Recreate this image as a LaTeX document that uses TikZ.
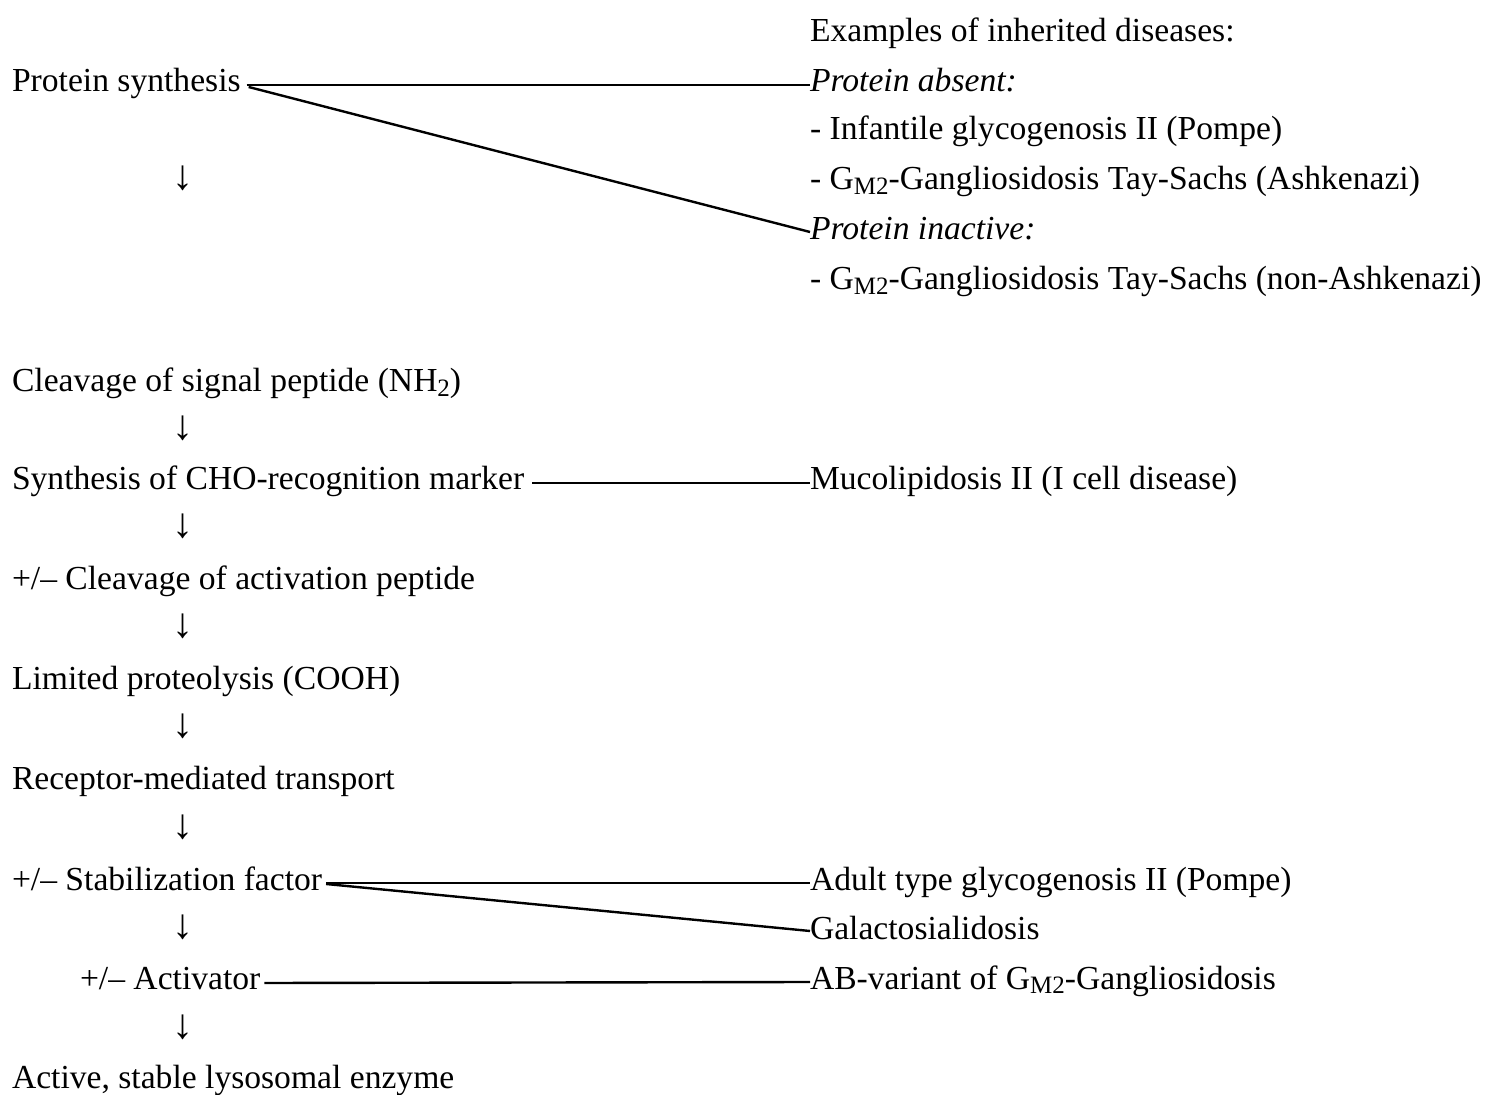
\documentclass[tikz,border=0pt]{standalone}
\usepackage{fontspec}
\setmainfont{Liberation Serif}
\newcommand{\Msub}{\raisebox{-0.12em}{\fontsize{12.5}{14}\selectfont M2}}
\begin{document}
\begin{tikzpicture}[x=0.5pt,y=-0.5pt,
  every node/.style={inner sep=0pt,outer sep=0pt,anchor=base west,font=\fontsize{16.8}{20}\selectfont},
  arr/.style={anchor=base,font=\fontsize{21}{24}\selectfont},
  conn/.style={line width=1.2pt}]
\useasboundingbox (0,0) rectangle (1499,1095);
% right column
\node (ex) at (810,42) {Examples of inherited diseases:};
\node (pa) at (810,92) {\itshape Protein absent:};
\node (inf) at (810,140) {- Infantile glycogenosis II (Pompe)};
\node (tsa) at (810,190) {- G\Msub-Gangliosidosis Tay-Sachs (Ashkenazi)};
\node (pi) at (810,240) {\itshape Protein inactive:};
\node (tsn) at (810,290) {- G\Msub-Gangliosidosis Tay-Sachs (non-Ashkenazi)};
\node (muc) at (810,490) {Mucolipidosis II (I cell disease)};
\node (adu) at (810,890) {Adult type glycogenosis II (Pompe)};
\node (gal) at (810,939) {Galactosialidosis};
\node (abv) at (810,989) {AB-variant of G\Msub-Gangliosidosis};
% left column
\node (ps) at (12,92) {Protein synthesis};
\node[arr] (a0) at (183,190) {↓};
\node (cs) at (12,392) {Cleavage of signal peptide (NH\raisebox{-0.12em}{\fontsize{12.5}{14}\selectfont 2})};
\node[arr] (a1) at (183,440) {↓};
\node (sc) at (12,490) {Synthesis of CHO-recognition marker};
\node[arr] (a2) at (183,538) {↓};
\node (ca) at (12,590) {+/– Cleavage of activation peptide};
\node[arr] (a3) at (183,638) {↓};
\node (lp) at (12,690) {Limited proteolysis (COOH)};
\node[arr] (a4) at (183,738) {↓};
\node (rm) at (12,790) {Receptor-mediated transport};
\node[arr] (a5) at (183,838) {↓};
\node (sf) at (12,890) {+/– Stabilization factor};
\node[arr] (a6) at (183,938) {↓};
\node (ac) at (80,989) {+/– Activator};
\node[arr] (a7) at (183,1038) {↓};
\node (ae) at (12,1088) {Active, stable lysosomal enzyme};
% connectors
\draw[conn] ([xshift=3pt,yshift=3.5pt]ps.base east) -- ([yshift=3.5pt]pa.base west);
\draw[conn] ([xshift=4pt,yshift=2.5pt]ps.base east) -- ([yshift=4pt]pi.base west);
\draw[conn] ([xshift=4pt,yshift=3.5pt]sc.base east) -- ([yshift=3.5pt]muc.base west);
\draw[conn] ([xshift=2pt,yshift=3.5pt]sf.base east) -- ([yshift=3.5pt]adu.base west);
\draw[conn] ([xshift=2pt,yshift=3pt]sf.base east) -- ([yshift=4pt]gal.base west);
\draw[conn] ([xshift=2pt,yshift=3pt]ac.base east) -- ([yshift=3.5pt]abv.base west);
\end{tikzpicture}
\end{document}
